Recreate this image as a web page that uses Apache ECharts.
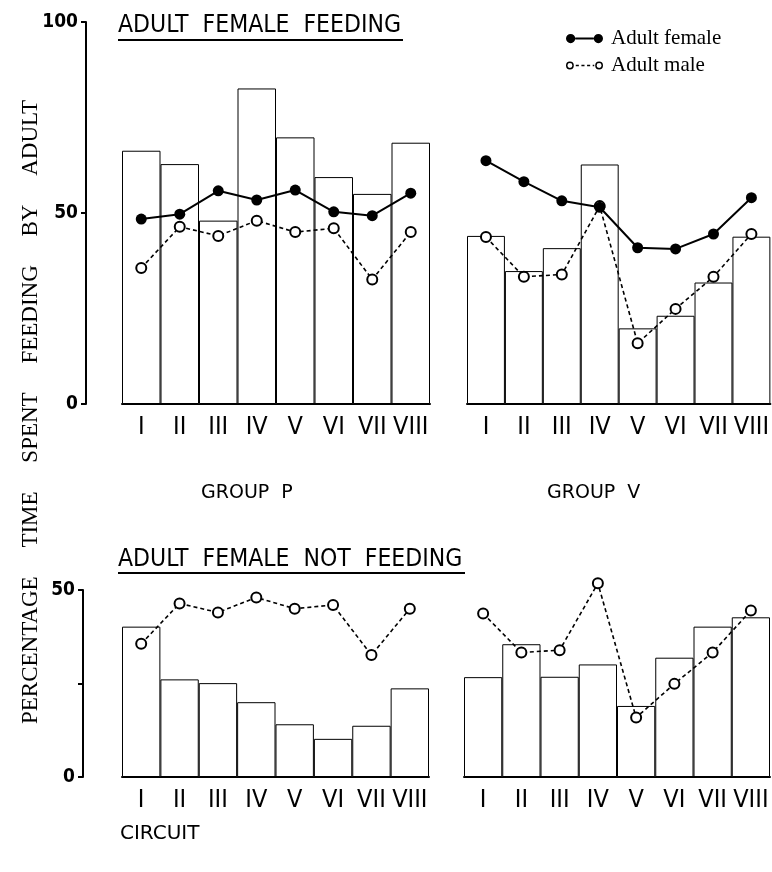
<!DOCTYPE html>
<html>
<head>
<meta charset="utf-8">
<script src="https://cdn.jsdelivr.net/npm/echarts@6/dist/echarts.min.js"></script>
<style>
  html, body { margin: 0; padding: 0; background: #fff; }
  #chart { width: 772px; height: 872px; }
</style>
</head>
<body>
<div id="chart"></div>
<script>
// Circuits walked by each group
const circuits = ['I', 'II', 'III', 'IV', 'V', 'VI', 'VII', 'VIII'];

// Adult female feeding: bars = % time spent feeding by the adult female
const groupPFeedBars = [66.3, 62.8, 48.0, 82.6, 69.8, 59.4, 55.0, 68.4];
const groupVFeedBars = [44.0, 34.8, 40.8, 62.7, 19.8, 23.1, 31.8, 43.8];

// Adult female not feeding: bars
const groupPNotFeedBars = [40.2, 26.1, 25.1, 20.0, 14.1, 10.2, 13.7, 23.7];
const groupVNotFeedBars = [26.7, 35.5, 26.8, 30.1, 19.0, 31.9, 40.2, 42.7];

// Lines: % time feeding by the adult female and adult male
const groupPFemale = [48.4, 49.7, 55.8, 53.4, 56.0, 50.3, 49.3, 55.2];
const groupVFemale = [63.7, 58.2, 53.2, 51.5, 40.9, 40.6, 44.5, 54.0];
const groupPMale = [35.6, 46.4, 44.0, 48.0, 45.0, 46.0, 32.6, 45.0];
const groupVMale = [43.7, 33.3, 33.9, 51.8, 15.9, 24.9, 33.3, 44.5];

// Axis ticks
const feedTicks = [0, 50, 100];
const notFeedTicks = [0, 25, 50];

const chart = echarts.init(document.getElementById('chart'), null, { renderer: 'canvas' });

const numeralFont = "'DejaVu Sans Condensed', 'Liberation Sans', sans-serif";
const headFont = "'DejaVu Sans Condensed', 'DejaVu Sans', sans-serif";

function xAxisFor(gridIndex) {
  return {
    type: 'category',
    gridIndex: gridIndex,
    data: circuits,
    axisLine: { show: true, lineStyle: { color: '#000', width: 2 } },
    axisTick: { show: false },
    axisLabel: {
      interval: 0, color: '#000', fontSize: 25, fontFamily: numeralFont, margin: 11
    },
    splitLine: { show: false }
  };
}

function yAxisFor(gridIndex, ticks, visible, offset) {
  return {
    type: 'value',
    gridIndex: gridIndex,
    min: ticks[0],
    max: ticks[ticks.length - 1],
    interval: ticks[1] - ticks[0],
    show: visible,
    offset: offset,
    axisLine: { show: true, lineStyle: { color: '#000', width: 2 } },
    axisTick: { show: true, length: 5, lineStyle: { color: '#000', width: 2 } },
    axisLabel: {
      color: '#000', fontSize: 19, fontWeight: 'bold', fontFamily: numeralFont, margin: 8,
      formatter: function (v) { return (v === 25) ? '' : String(v); }
    },
    splitLine: { show: false }
  };
}

function barSeries(idx, data) {
  return {
    type: 'bar', xAxisIndex: idx, yAxisIndex: idx, data: data,
    barWidth: '100%', barGap: '0%',
    itemStyle: { color: '#fff', borderColor: '#000', borderWidth: 1 },
    emphasis: { disabled: true }, silent: true, z: 1
  };
}

function femaleSeries(idx, data) {
  return {
    name: 'Adult female', type: 'line', xAxisIndex: idx, yAxisIndex: idx, data: data,
    symbol: 'circle', symbolSize: 11, clip: false,
    itemStyle: { color: '#000' },
    lineStyle: { color: '#000', width: 2 },
    emphasis: { disabled: true }, z: 4
  };
}

function maleSeries(idx, data) {
  return {
    name: 'Adult male', type: 'line', xAxisIndex: idx, yAxisIndex: idx, data: data,
    symbol: 'emptyCircle', symbolSize: 10, clip: false,
    itemStyle: { color: '#000', borderWidth: 1.5 },
    lineStyle: { color: '#000', width: 1.6, type: [4, 3] },
    emphasis: { disabled: true }, z: 3
  };
}

// Legend icons: two filled dots joined by a line / two rings joined by a dashed line
const femaleIcon = 'path://M1,5A4.5,4.5 0 1,1 10,5A4.5,4.5 0 1,1 1,5Z' +
  'M28,5A4.5,4.5 0 1,1 37,5A4.5,4.5 0 1,1 28,5Z' +
  'M10,4L28,4L28,6L10,6Z';
const maleIcon = 'path://M1,5A3.8,3.8 0 1,1 8.6,5A3.8,3.8 0 1,1 1,5Z' +
  'M2.4,5A2.4,2.4 0 1,0 7.2,5A2.4,2.4 0 1,0 2.4,5Z' +
  'M29.4,5A3.8,3.8 0 1,1 37,5A3.8,3.8 0 1,1 29.4,5Z' +
  'M30.8,5A2.4,2.4 0 1,0 35.6,5A2.4,2.4 0 1,0 30.8,5Z' +
  'M10.5,4.3L13.5,4.3L13.5,5.7L10.5,5.7Z' +
  'M16,4.3L19,4.3L19,5.7L16,5.7Z' +
  'M21.5,4.3L24.5,4.3L24.5,5.7L21.5,5.7Z' +
  'M27,4.3L28.5,4.3L28.5,5.7L27,5.7Z' +
  'M1,1L1,1Z M37,9L37,9Z';

const option = {
  backgroundColor: '#fff',
  animation: false,
  grid: [
    { left: 122, top: 22, width: 308, height: 382 },
    { left: 467, top: 22, width: 304, height: 382 },
    { left: 122, top: 590, width: 307, height: 187 },
    { left: 464, top: 590, width: 306, height: 187 }
  ],
  xAxis: [xAxisFor(0), xAxisFor(1), xAxisFor(2), xAxisFor(3)],
  yAxis: [
    yAxisFor(0, feedTicks, true, 36),
    yAxisFor(1, feedTicks, false, 0),
    yAxisFor(2, notFeedTicks, true, 39),
    yAxisFor(3, notFeedTicks, false, 0)
  ],
  legend: {
    left: 566, top: 28, orient: 'vertical', itemGap: 6,
    itemWidth: 37, itemHeight: 10, padding: 0,
    selectedMode: false,
    textStyle: { color: '#000', fontSize: 21, fontFamily: "'Liberation Serif', 'DejaVu Serif', serif", padding: [0, 0, 0, 3] },
    data: [
      { name: 'Adult female', icon: femaleIcon, itemStyle: { color: '#000', borderWidth: 0 } },
      { name: 'Adult male', icon: maleIcon, itemStyle: { color: '#000', borderWidth: 0 } }
    ]
  },
  graphic: [
    { type: 'text', left: 118, top: 13,
      style: { text: 'ADULT  FEMALE  FEEDING', font: "24.5px " + headFont, fill: '#000' } },
    { type: 'line', shape: { x1: 118, y1: 40, x2: 403, y2: 40 }, style: { stroke: '#000', lineWidth: 2 } },
    { type: 'text', left: 118, top: 547,
      style: { text: 'ADULT  FEMALE  NOT  FEEDING', font: "24.5px " + headFont, fill: '#000' } },
    { type: 'line', shape: { x1: 118, y1: 573, x2: 465, y2: 573 }, style: { stroke: '#000', lineWidth: 2 } },
    { type: 'text', left: 201, top: 484,
      style: { text: 'GROUP  P', font: "19px 'DejaVu Sans', sans-serif", fill: '#000' } },
    { type: 'text', left: 547, top: 484,
      style: { text: 'GROUP  V', font: "19px 'DejaVu Sans', sans-serif", fill: '#000' } },
    { type: 'text', left: 120, top: 824,
      style: { text: 'CIRCUIT', font: "20px 'DejaVu Sans', sans-serif", fill: '#000' } },
    { type: 'text', x: 31, y: 412, rotation: Math.PI / 2,
      style: { text: 'PERCENTAGE     TIME     SPENT     FEEDING     BY     ADULT',
        font: "23px 'Liberation Serif', 'DejaVu Serif', serif", fill: '#000',
        align: 'center', verticalAlign: 'middle' } }
  ],
  series: [
    barSeries(0, groupPFeedBars),
    maleSeries(0, groupPMale),
    femaleSeries(0, groupPFemale),
    barSeries(1, groupVFeedBars),
    maleSeries(1, groupVMale),
    femaleSeries(1, groupVFemale),
    barSeries(2, groupPNotFeedBars),
    maleSeries(2, groupPMale),
    barSeries(3, groupVNotFeedBars),
    maleSeries(3, groupVMale)
  ]
};

chart.setOption(option);
</script>
</body>
</html>
